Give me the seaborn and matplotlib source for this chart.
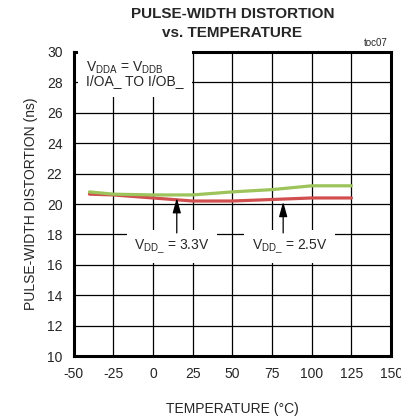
import numpy as np
import pandas as pd
import matplotlib
matplotlib.use('Agg')
import matplotlib.pyplot as plt
import seaborn as sns

temps = [-40, -25, 0, 25, 50, 75, 100, 125]
pwd_33 = [20.8, 20.65, 20.6, 20.6, 20.8, 20.95, 21.2, 21.2]
pwd_25 = [20.65, 20.6, 20.4, 20.2, 20.2, 20.3, 20.4, 20.4]

df = pd.DataFrame({
    'temp': temps * 2,
    'pwd': pwd_33 + pwd_25,
    'vdd': ['3.3V'] * len(temps) + ['2.5V'] * len(temps),
})

sns.set_style('white')
plt.rcParams['font.family'] = ['Liberation Sans', 'DejaVu Sans']
plt.rcParams['axes.unicode_minus'] = False

fig = plt.figure(figsize=(4.02, 4.19), dpi=100)
ax = fig.add_axes([0.183, 0.150, 0.790, 0.726])

sns.lineplot(data=df, x='temp', y='pwd', hue='vdd',
             palette={'3.3V': '#9dc35b', '2.5V': '#d04e4e'},
             hue_order=['2.5V', '3.3V'],
             linewidth=2.3, legend=False, ax=ax)

ax.set_xlim(-50, 150)
ax.set_ylim(10, 30)
ax.set_xticks(np.arange(-50, 151, 25))
ax.set_yticks(np.arange(10, 31, 2))
ax.grid(True, color='black', linewidth=0.9)
ax.set_axisbelow(True)
for s in ax.spines.values():
    s.set_linewidth(2.2)
    s.set_color('black')
ax.tick_params(labelsize=10, length=0, pad=8)
ax.set_xlabel('TEMPERATURE (°C)', fontsize=10, labelpad=15)
ax.set_ylabel('PULSE-WIDTH DISTORTION (ns)', fontsize=10, labelpad=6)

ax.set_title('PULSE-WIDTH DISTORTION\nvs. TEMPERATURE', fontsize=11,
             fontweight='bold', pad=11, linespacing=1.45)
fig.text(0.965, 0.885, 'toc07', fontsize=7, ha='right', va='bottom')

ax.text(-42, 29.5, '$\\mathregular{V_{DDA}}$ = $\\mathregular{V_{DDB}}$\nI/OA_ TO I/OB_',
        fontsize=10, va='top', ha='left', linespacing=0.85,
        bbox=dict(facecolor='white', edgecolor='none', pad=6))

box = dict(boxstyle='square,pad=0.55', facecolor='white', edgecolor='none')
ax.text(12, 17.2, '$\\mathregular{V_{DD\\_}}$ = 3.3V', fontsize=10,
        ha='center', va='center', bbox=box)
ax.text(86, 17.2, '$\\mathregular{V_{DD\\_}}$ = 2.5V', fontsize=10,
        ha='center', va='center', bbox=box)

arrow = dict(arrowstyle='-|>,head_length=0.9,head_width=0.25', color='black',
             lw=0.9, shrinkA=0, shrinkB=0)
ax.annotate('', xy=(15, 20.4), xytext=(15, 18.1), arrowprops=arrow)
ax.annotate('', xy=(82, 20.15), xytext=(82, 18.1), arrowprops=arrow)

fig.savefig('out.png', dpi=100)
